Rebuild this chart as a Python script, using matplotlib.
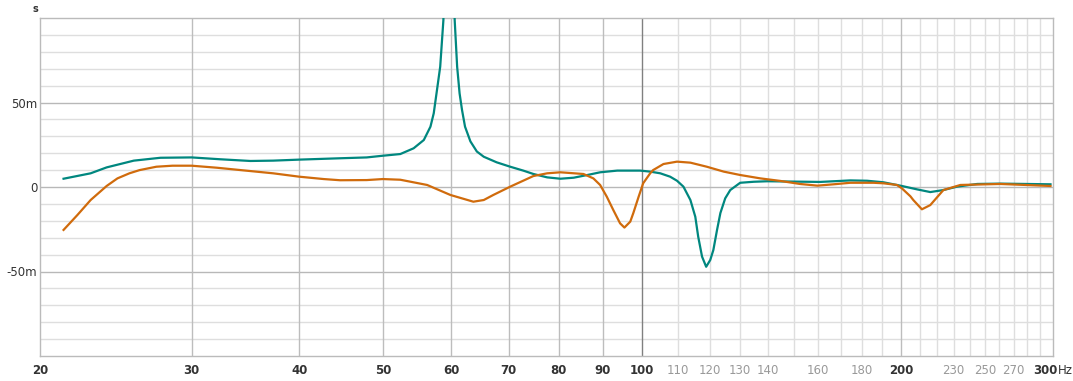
import matplotlib
matplotlib.use("Agg")
import matplotlib.pyplot as plt
from matplotlib import font_manager
import numpy as np

# group delay, frequency in Hz, delay in ms
teal_freq = [21.3, 22.9, 23.9, 25.7, 27.6, 30, 32.4, 35.1, 37.3, 40, 44.6, 47.9,
             50, 52.4, 54.3, 55.8, 56.8, 57.3, 57.8, 58.3, 58.8, 59.3, 59.7,
             60.1, 60.6, 61.0, 61.4, 61.8, 62.3, 63.2, 64.3, 65.5, 67.8, 70.3,
             72.8, 74.8, 77.6, 80.4, 83.3, 86.4, 89.4, 93.6, 99.5, 102.2, 105,
             107.8, 109.8, 111.7, 113.8, 115.3, 116.2, 117.4, 118.7, 120.0,
             121.0, 122.2, 123.3, 124.9, 126.6, 130, 134.8, 139.8, 161, 174.5,
             182.5, 190.6, 200.3, 208.6, 216.1, 223.8, 232.1, 245, 260.6, 298]
teal_ms = [4.9, 8.1, 11.6, 15.6, 17.3, 17.5, 16.4, 15.4, 15.6, 16.2, 17.0, 17.5,
           18.5, 19.5, 22.9, 27.8, 35.7, 43.6, 57.4, 71.2, 98.8, 200, 400,
           200, 98.8, 71.2, 55.4, 45.6, 35.7, 27, 21, 17.9, 14.6, 12.0,
           9.7, 7.7, 5.7, 4.9, 5.5, 7.1, 8.7, 9.7, 9.7, 9.1, 8.1,
           6.1, 3.7, 0.2, -7.7, -17.6, -29.4, -41.2, -47.2, -43.2,
           -37.3, -25.4, -15.4, -6.7, -1.8, 2.5, 3.1, 3.4, 3.0, 3.9,
           3.7, 2.8, 0.6, -1.4, -3.0, -1.8, 0.2, 1.8, 2.0, 1.6]

orange_freq = [21.3, 22.1, 22.9, 23.9, 24.6, 25.4, 26.1, 27.3, 28.5, 30, 32.1,
               34.2, 37.3, 40, 42.7, 44.6, 47.9, 50, 52.4, 56.3, 59.9, 63.7,
               65.5, 67.2, 70.3, 74.8, 77.6, 80.4, 85.5, 87.8, 89.4, 91.0, 92.6,
               94.3, 95.4, 96.9, 97.7, 99.1, 100.3, 102.2, 103, 105.9, 109.8,
               113.8, 118.9, 124.4, 130, 137.2, 144.7, 152.5, 159.8, 166.9,
               174.5, 185.7, 190.6, 197.7, 200.3, 204.9, 206.5, 211.3, 216.1,
               223.8, 234.2, 260.6, 298]
orange_ms = [-25.4, -16.6, -7.7, 0.6, 5.1, 8.1, 10, 12.0, 12.6, 12.6, 11.4,
             10.0, 8.1, 6.1, 4.7, 4.0, 4.1, 4.7, 4.3, 1.2, -4.7, -8.7,
             -7.7, -4.7, 0.2, 6.5, 8.1, 8.7, 7.7, 5.1, 1.2, -5.7, -13.6,
             -21.5, -24, -20.5, -15.4, -5.7, 2.2, 8.1, 10, 13.6, 15.0,
             14.4, 12.0, 9.1, 7.1, 5.1, 3.6, 1.8, 0.8, 1.6,
             2.5, 2.5, 2.2, 1.2, -0.8, -5.5, -7.7, -13.2, -10.7,
             -1.8, 1.2, 1.8, 0.6]

major_x = [20, 30, 40, 50, 60, 70, 80, 90, 100, 200, 300]
minor_x = [110, 120, 130, 140, 150, 160, 170, 180, 190,
           210, 220, 230, 240, 250, 260, 270, 280, 290]
minor_labels = {110: "110", 120: "120", 130: "130", 140: "140", 160: "160",
                180: "180", 230: "230", 250: "250", 270: "270"}
y_ticks = [-0.05, 0, 0.05]
y_labels = ["-50m", "0", "50m"]

installed = {f.name for f in font_manager.fontManager.ttflist}
font = "Liberation Sans Narrow" if "Liberation Sans Narrow" in installed else "DejaVu Sans"
plt.rcParams["font.family"] = [font, "DejaVu Sans"]

fig = plt.figure(figsize=(10.73, 3.81), dpi=100)
ax = fig.add_axes([40 / 1073, 25 / 381, 1013 / 1073, 338 / 381])
ax.set_xscale("log")
ax.set_xlim(20, 300)
ax.set_ylim(-0.1, 0.1)

# horizontal grid
for v in np.arange(-0.09, 0.1, 0.01):
    if abs(round(v * 100) % 5) == 0:
        ax.axhline(v, color="#b8b8b8", lw=1, zorder=1)
    else:
        ax.axhline(v, color="#dedede", lw=1, zorder=0)

# vertical grid
for f in major_x[1:-1]:
    c = "#808080" if f == 100 else "#bdbdbd"
    ax.axvline(f, color=c, lw=1, zorder=1)
for f in minor_x:
    ax.axvline(f, color="#dedede", lw=1, zorder=0)

ax.plot(teal_freq, np.array(teal_ms) / 1000, color="#00877f", lw=1.6, zorder=3)
ax.plot(orange_freq, np.array(orange_ms) / 1000, color="#d06b0c", lw=1.6, zorder=4)

for s in ax.spines.values():
    s.set_color("#bbbbbb")
    s.set_linewidth(1)

ax.xaxis.set_minor_locator(matplotlib.ticker.NullLocator())
ax.set_xticks(major_x)
ax.set_xticklabels([str(f) if f != 300 else "" for f in major_x], fontsize=8.5,
                   fontweight="bold", color="#333333")
ax.set_yticks(y_ticks)
ax.set_yticklabels(y_labels, fontsize=8.5, color="#333333")
ax.tick_params(axis="both", length=0)
ax.tick_params(axis="x", pad=6)
ax.tick_params(axis="y", pad=2)

for f, lab in minor_labels.items():
    ax.annotate(lab, xy=(f, 0), xycoords=("data", "axes fraction"),
                xytext=(0, -6), textcoords="offset points", ha="center",
                va="top", fontsize=8.5, color="#999999")

# last tick carries the unit
ax.annotate("300", xy=(300, 0), xycoords=("data", "axes fraction"),
            xytext=(3.6, -6), textcoords="offset points", ha="right", va="top",
            fontsize=8.5, fontweight="bold", color="#333333")
ax.annotate("Hz", xy=(300, 0), xycoords=("data", "axes fraction"),
            xytext=(3.8, -6), textcoords="offset points", ha="left", va="top",
            fontsize=8.5, color="#333333")
fig.text(35 / 1073, 1 - 9 / 381, "s", fontsize=7, fontweight="bold",
         color="#333333", ha="center", va="center")

fig.savefig("out.png", dpi=100, facecolor="white")
